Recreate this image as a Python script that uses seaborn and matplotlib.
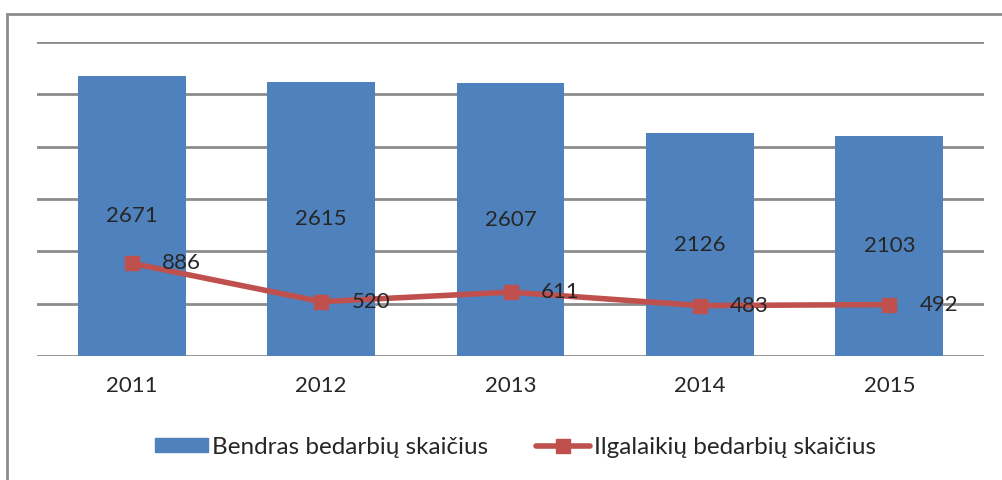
import seaborn as sns
import matplotlib.pyplot as plt
import pandas as pd
from matplotlib.patches import Rectangle

# data
years = ['2011', '2012', '2013', '2014', '2015']
total = [2671, 2615, 2607, 2126, 2103]        # Bendras bedarbiu skaicius
longterm = [886, 520, 611, 483, 492]          # Ilgalaikiu bedarbiu skaicius

df = pd.DataFrame({'year': years, 'total': total, 'longterm': longterm})

sns.set_style('white')
plt.rcParams['font.family'] = ['Lato', 'DejaVu Sans']

blue = '#4F81BD'
red = '#C0504D'

fig = plt.figure(figsize=(10.02, 4.8), dpi=100)
ax = fig.add_axes([0.037, 0.258, 0.945, 0.655])

sns.barplot(data=df, x='year', y='total', color=blue, width=0.57, saturation=1,
            ax=ax, zorder=2, linewidth=0)
line, = ax.plot(range(len(years)), longterm, color=red, lw=4, marker='s', ms=10,
                zorder=3)

# value labels
for i, v in enumerate(total):
    ax.text(i, v / 2, str(v), ha='center', va='center', fontsize=16, zorder=4)
for i, v in enumerate(longterm):
    ax.text(i + 0.16, v, str(v), ha='left', va='center', fontsize=16, zorder=4)

ax.set_ylim(0, 3000)
ax.set_xlim(-0.5, 4.5)
ax.set_yticks(range(0, 3001, 500))
ax.set_yticklabels([])
ax.tick_params(axis='y', length=0)
ax.tick_params(axis='x', length=0, labelsize=16, pad=14)
ax.yaxis.grid(True, color='#8C8C8C', lw=2, zorder=0)
ax.set_axisbelow(True)
for s in ax.spines.values():
    s.set_visible(False)
ax.set_xlabel('')
ax.set_ylabel('')

bar_handle = Rectangle((0, 0), 1, 1, color=blue)
fig.legend([bar_handle, line], ['Bendras bedarbių skaičius', 'Ilgalaikių bedarbių skaičius'],
           loc='center', bbox_to_anchor=(0.514, 0.068), ncol=2, frameon=False,
           fontsize=17.5, handlelength=2.2, handleheight=0.5, handletextpad=0.15,
           columnspacing=2.0)

# outer chart border
fig.patches.append(Rectangle((0.007, -0.05), 1.05, 1.021, transform=fig.transFigure,
                             fill=False, edgecolor='#8C8C8C', lw=2))

fig.savefig('out.png', dpi=100)
